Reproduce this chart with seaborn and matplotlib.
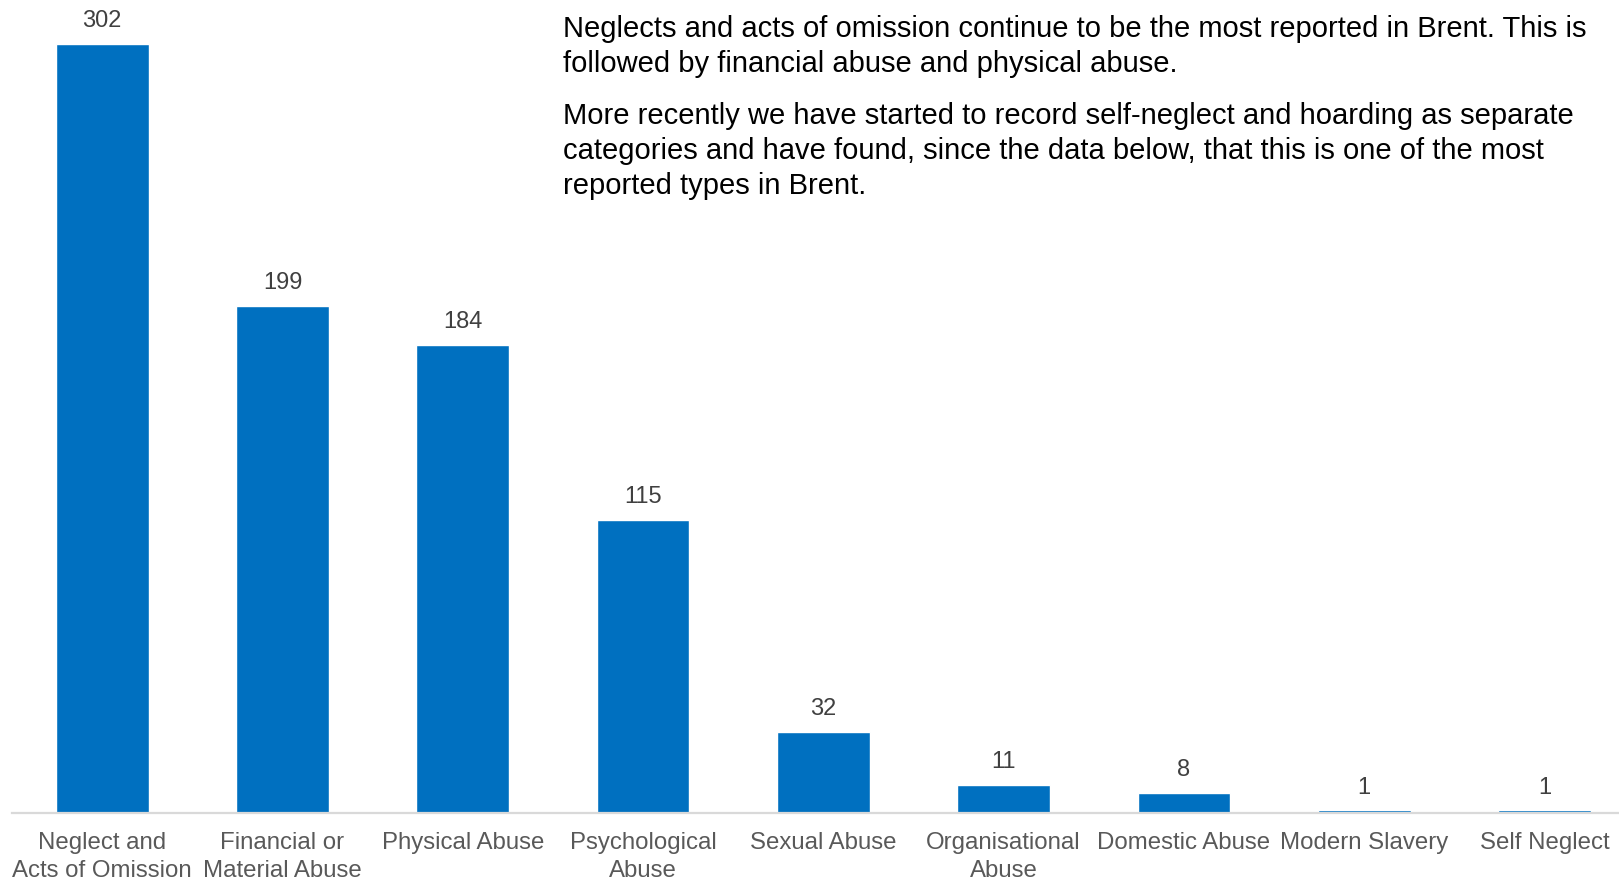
import matplotlib
matplotlib.use("Agg")
import matplotlib.pyplot as plt
import seaborn as sns
import pandas as pd

# Data
categories = ["Neglect and\nActs of Omission", "Financial or\nMaterial Abuse", "Physical Abuse",
              "Psychological\nAbuse", "Sexual Abuse", "Organisational\nAbuse", "Domestic Abuse",
              "Modern Slavery", "Self Neglect"]
counts = [302, 199, 184, 115, 32, 11, 8, 1, 1]

para1 = ("Neglects and acts of omission continue to be the most reported in Brent. This is\n"
         "followed by financial abuse and physical abuse.")
para2 = ("More recently we have started to record self-neglect and hoarding as separate\n"
         "categories and have found, since the data below, that this is one of the most\n"
         "reported types in Brent.")

df = pd.DataFrame({"category": categories, "count": counts})

sns.set_style("white")
plt.rcParams["font.family"] = ["Liberation Sans", "DejaVu Sans"]

W, H = 1619, 881
fig = plt.figure(figsize=(W / 100, H / 100), dpi=100)
ax = fig.add_axes([12 / W, 68 / H, 1607 / W, 813 / H])

sns.barplot(data=df, x="category", y="count", color="#0070C0", width=0.515,
            saturation=1, ax=ax)

ax.set_xlim(-0.5, -0.5 + 1607 / 180.3)
ax.set_ylim(0, 813 / 2.546)

for i, v in enumerate(counts):
    ax.annotate(str(v), (i, v), xytext=(0, 16.5), textcoords="offset points",
                ha="center", va="center", fontsize=17, color="#404040")

for s in ["top", "right", "left"]:
    ax.spines[s].set_visible(False)
ax.spines["bottom"].set_color("#d9d9d9")
ax.spines["bottom"].set_linewidth(1.6)
ax.set_yticks([])
ax.set_xlabel("")
ax.set_ylabel("")
ax.tick_params(axis="x", length=0, pad=14, labelsize=17.3, labelcolor="#595959")
for lbl in ax.get_xticklabels():
    lbl.set_linespacing(1.3)

fig.text(563 / W, 1 - 15 / H, para1, ha="left", va="top", fontsize=21,
         color="#000000", linespacing=1.32)
fig.text(563 / W, 1 - 102 / H, para2, ha="left", va="top", fontsize=21,
         color="#000000", linespacing=1.32)

fig.savefig("out.png", dpi=100)
